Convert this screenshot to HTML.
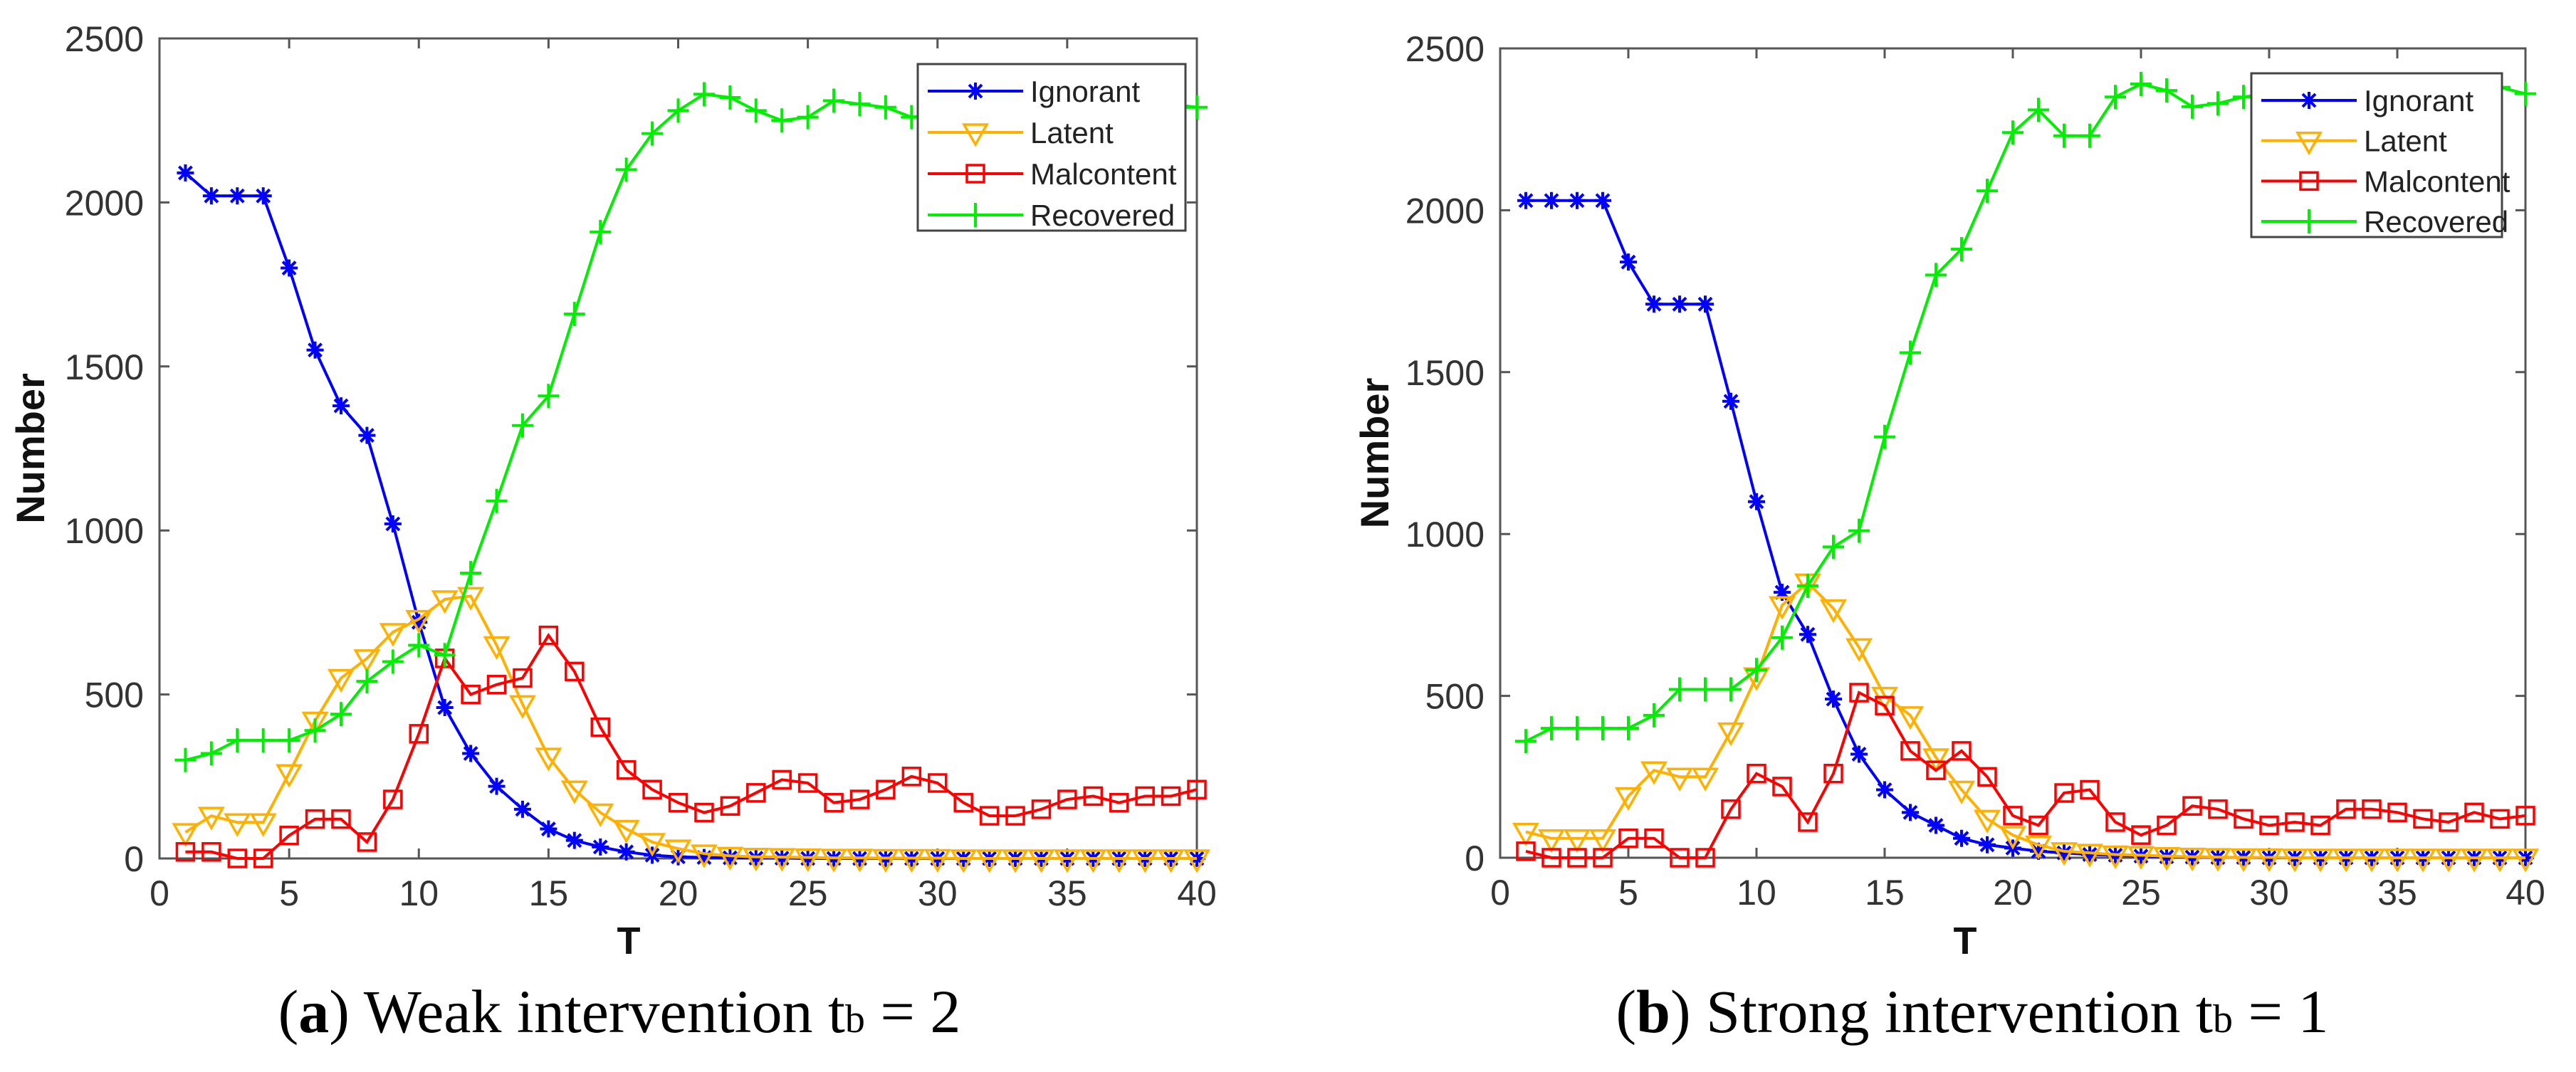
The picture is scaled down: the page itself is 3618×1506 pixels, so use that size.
<!DOCTYPE html>
<html><head><meta charset="utf-8"><style>
html,body{margin:0;padding:0;background:#fff;}
svg{display:block;}
</style></head><body>
<svg id="fig" width="3618" height="1506" viewBox="0 0 3618 1506" xmlns="http://www.w3.org/2000/svg"></svg>
<script>
const T = Array.from({length:40},(_,i)=>i+1);
const xTicks = [0,5,10,15,20,25,30,35,40];
const yTicks = [0,500,1000,1500,2000,2500];
const seriesNames = ["Ignorant","Latent","Malcontent","Recovered"];
const aIgnorant = [2090,2020,2020,2020,1800,1550,1380,1290,1020,720,460,320,220,150,90,55,35,20,10,5,3,2,1,1,0,0,0,0,0,0,0,0,0,0,0,0,0,0,0,0];
const aLatent = [80,130,110,110,260,420,550,610,690,730,790,800,650,470,310,210,140,90,50,30,15,8,5,4,3,2,2,1,1,1,0,0,0,0,0,0,0,0,0,0];
const aMalcontent = [20,20,0,0,70,120,120,50,180,380,610,500,530,550,680,570,400,270,210,170,140,160,200,240,230,170,180,210,250,230,170,130,130,150,180,190,170,190,190,210];
const aRecovered = [300,320,360,360,360,390,440,540,600,650,620,870,1090,1320,1410,1660,1910,2100,2210,2280,2330,2320,2280,2250,2260,2310,2300,2290,2260,2270,2280,2280,2290,2300,2300,2310,2300,2310,2300,2290];
const bIgnorant = [2030,2030,2030,2030,1840,1710,1710,1710,1410,1100,820,690,490,320,210,140,100,60,40,30,20,15,10,8,5,3,2,1,1,0,0,0,0,0,0,0,0,0,0,0];
const bLatent = [80,60,60,60,190,270,250,250,390,560,780,850,770,650,500,440,310,210,120,70,40,20,15,10,8,5,3,2,1,1,0,0,0,0,0,0,0,0,0,0];
const bMalcontent = [20,0,0,0,60,60,0,0,150,260,220,110,260,510,470,330,270,330,250,130,100,200,210,110,70,100,160,150,120,100,110,100,150,150,140,120,110,140,120,130];
const bRecovered = [360,400,400,400,400,440,520,520,520,580,680,840,960,1010,1300,1560,1800,1880,2060,2240,2310,2230,2230,2350,2390,2370,2320,2330,2350,2360,2370,2380,2380,2370,2370,2380,2380,2370,2380,2360];

const NS="http://www.w3.org/2000/svg";
const svg=document.getElementById('fig');
function mk(tag,attrs,parent){const e=document.createElementNS(NS,tag);for(const k in attrs)e.setAttribute(k,attrs[k]);(parent||svg).appendChild(e);return e;}
const colors={Ignorant:"#0000ff",Latent:"#ffb000",Malcontent:"#ff0000",Recovered:"#00ee00"};

function marker(g,name,x,y){
  const c=colors[name];const s=12;
  if(name==="Ignorant"){
    mk('path',{d:`M${x-s} ${y}H${x+s}M${x} ${y-s}V${y+s}M${x-9} ${y-9}L${x+9} ${y+9}M${x-9} ${y+9}L${x+9} ${y-9}`,stroke:c,'stroke-width':4,fill:'none'},g);
  }else if(name==="Latent"){
    mk('path',{d:`M${x-16} ${y-11}H${x+16}L${x} ${y+17}Z`,stroke:c,'stroke-width':3.5,fill:'none'},g);
  }else if(name==="Malcontent"){
    mk('rect',{x:x-12,y:y-12,width:24,height:24,stroke:c,'stroke-width':3.5,fill:'none'},g);
  }else{
    mk('path',{d:`M${x-15} ${y}H${x+15}M${x} ${y-17}V${y+17}`,stroke:c,'stroke-width':4,fill:'none'},g);
  }
}

function panel(id,L,R,Tp,B,data,legend,ylabX,tX,tY,caption,capX,capLetter){
  const g=mk('g',{});
  
  
  const sx=v=>L+(v-0)/40*(R-L);
  const sy=v=>B-(v/2500)*(B-Tp);
  mk('rect',{x:L,y:Tp,width:R-L,height:B-Tp,fill:'#fff',stroke:'#555','stroke-width':3},g);
  const ax=mk('g',{},g);
  
  
  xTicks.forEach(v=>{
    const x=sx(v);
    mk('path',{d:`M${x} ${B}V${B-14}M${x} ${Tp}V${Tp+14}`,stroke:'#555','stroke-width':3},ax);
    const t=mk('text',{x:x,y:B+66,'text-anchor':'middle','font-family':'Liberation Sans, sans-serif','font-size':50,fill:'#333'},ax);
    t.textContent=v;
    
    
  });
  const ay=mk('g',{},g);
  
  
  yTicks.forEach(v=>{
    const y=sy(v);
    mk('path',{d:`M${L} ${y}H${L+14}M${R} ${y}H${R-14}`,stroke:'#555','stroke-width':3},ay);
    const t=mk('text',{x:L-22,y:y+18,'text-anchor':'end','font-family':'Liberation Sans, sans-serif','font-size':50,fill:'#333'},ay);
    t.textContent=v;
    
    
  });
  const yl=mk('text',{x:ylabX,y:(Tp+B)/2,transform:`rotate(-90 ${ylabX} ${(Tp+B)/2})`,'text-anchor':'middle','font-family':'Liberation Sans, sans-serif','font-size':56,'font-weight':'bold',fill:'#111'},g);
  yl.textContent='Number';
  
  
  const xl=mk('text',{x:tX,y:tY,'text-anchor':'middle','font-family':'Liberation Sans, sans-serif','font-size':54,'font-weight':'bold',fill:'#111'},g);
  xl.textContent='T';
  
  
  seriesNames.forEach((name,si)=>{
    const vals=data[si];
    const sg=mk('g',{},g);
    
    
    const pts=vals.map((v,i)=>sx(T[i])+','+sy(v)).join(' ');
    mk('polyline',{points:pts,fill:'none',stroke:colors[name],'stroke-width':4},sg);
    vals.forEach((v,i)=>marker(sg,name,sx(T[i]),sy(v)));
  });
  const lg=mk('g',{},g);
  
  
  const [lx,ly,lw,lh]=legend;
  mk('rect',{x:lx,y:ly,width:lw,height:lh,fill:'#fff',stroke:'#444','stroke-width':3},lg);
  seriesNames.forEach((name,i)=>{
    const yy=ly+38+i*(lh-60)/3;
    const ent=mk('g',{},lg);
    
    
    mk('path',{d:`M${lx+14} ${yy}H${lx+148}`,stroke:colors[name],'stroke-width':4},ent);
    marker(ent,name,lx+81,yy);
    const t=mk('text',{x:lx+158,y:yy+15,'font-family':'Liberation Sans, sans-serif','font-size':42,fill:'#222'},ent);
    t.textContent=name;
  });
  const cap=mk('text',{x:capX,y:1450,'text-anchor':'middle','font-family':'Liberation Serif, serif','font-size':86,fill:'#000'},svg);
  
  
  const p1=mk('tspan',{},cap);p1.textContent='(';
  const p2=mk('tspan',{'font-weight':'bold'},cap);p2.textContent=capLetter;
  const p3=mk('tspan',{},cap);p3.textContent=') '+caption+' t';
  const p4=mk('tspan',{'font-size':56},cap);p4.textContent='b';
  const p5=mk('tspan',{},cap);p5.textContent=capLetter==='a'?' = 2':' = 1';
}
panel('panel-weak',224,1681,54,1206,[aIgnorant,aLatent,aMalcontent,aRecovered],[1289,90,376,234],62,883,1340,'Weak intervention',870,'a');
panel('panel-strong',2107,3547,68,1205,[bIgnorant,bLatent,bMalcontent,bRecovered],[3162,103,352,230],1950,2760,1340,'Strong intervention',2770,'b');
</script>
</body></html>
